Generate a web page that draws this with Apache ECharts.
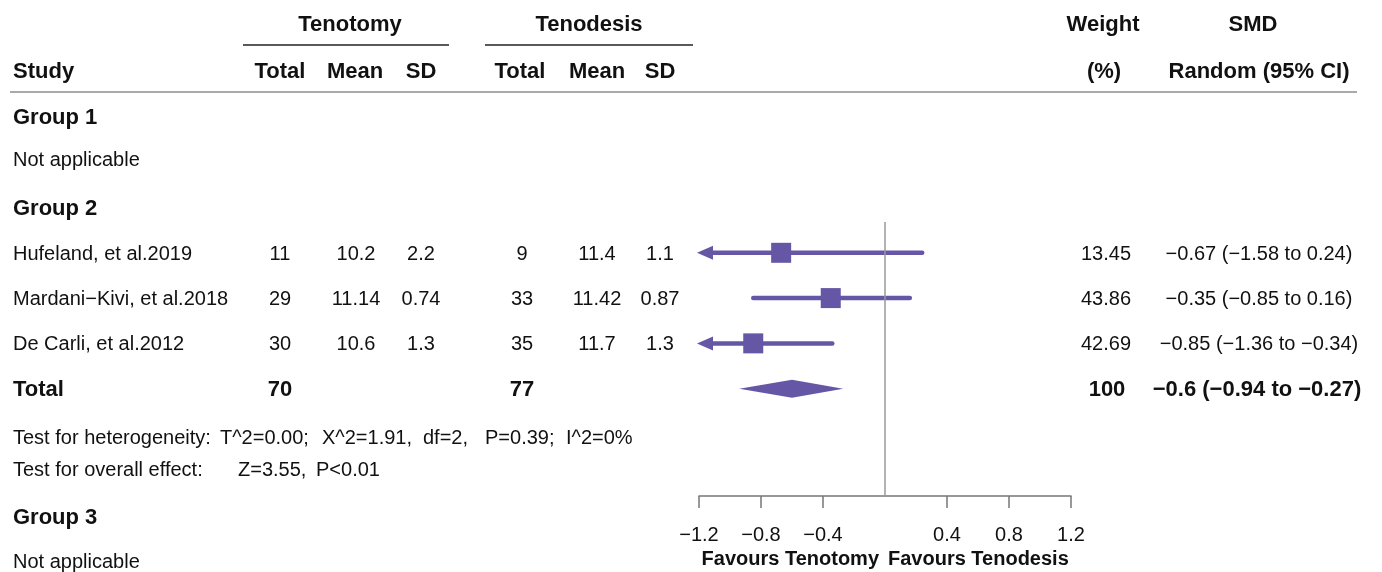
<!DOCTYPE html>
<html><head><meta charset="utf-8">
<script src="https://cdn.jsdelivr.net/npm/echarts@6/dist/echarts.min.js"></script>
<style>html,body{margin:0;padding:0;background:#fff}#c{width:1382px;height:572px}</style>
</head><body><div id="c"></div>
<script>
// ---- data ----
const studies = ['Hufeland, et al.2019', 'Mardani\u2212Kivi, et al.2018', 'De Carli, et al.2012'];
const tenotomyTotal = ['11', '29', '30'];
const tenotomyMean = ['10.2', '11.14', '10.6'];
const tenotomySD = ['2.2', '0.74', '1.3'];
const tenodesisTotal = ['9', '33', '35'];
const tenodesisMean = ['11.4', '11.42', '11.7'];
const tenodesisSD = ['1.1', '0.87', '1.3'];
const weights = ['13.45', '43.86', '42.69'];
const smd = [-0.67, -0.35, -0.85];
const ciLower = [-1.58, -0.85, -1.36];
const ciUpper = [0.24, 0.16, -0.34];
const totalTenotomy = '70';
const totalTenodesis = '77';
const totalWeight = '100';
const totalSMD = -0.6;
const totalLower = -0.94;
const totalUpper = -0.27;
const tickValues = [-1.2, -0.8, -0.4, 0.4, 0.8, 1.2];
const heterogeneity = ['Test for heterogeneity:', 'T^2=0.00;', 'X^2=1.91,', 'df=2,', 'P=0.39;', 'I^2=0%'];
const overallEffect = ['Test for overall effect:', 'Z=3.55,', 'P<0.01'];

// ---- helpers ----
const XMIN = -1.2, XMAX = 1.2;
const PURPLE = '#6656a6';
const FONT = '"Liberation Sans", Arial, Helvetica, sans-serif';
const INK = '#111111';
const DY = 1.5;
const m = v => String(v).replace(/-/g, '\u2212');
const fmt = v => m(v);
const ciText = (e, l, u) => m(e) + ' (' + m(l) + ' to ' + m(u) + ')';

const chart = echarts.init(document.getElementById('c'), null, { renderer: 'canvas' });

function ciRender(params, api) {
  const lo = api.value(1), hi = api.value(2), row = api.value(3);
  const loC = Math.max(lo, XMIN), hiC = Math.min(hi, XMAX);
  const p1 = api.coord([loC, row]), p2 = api.coord([hiC, row]);
  const children = [];
  const startX = lo < XMIN ? p1[0] + 10 : p1[0];
  const endX = hi > XMAX ? p2[0] - 10 : p2[0];
  children.push({
    type: 'line',
    shape: { x1: startX, y1: p1[1], x2: endX, y2: p2[1] },
    style: { stroke: PURPLE, lineWidth: 4.5, lineCap: 'round' }
  });
  if (lo < XMIN) {
    children.push({ type: 'polygon', shape: { points: [[p1[0] - 2, p1[1]], [p1[0] + 14, p1[1] - 7], [p1[0] + 14, p1[1] + 7]] }, style: { fill: PURPLE } });
  }
  if (hi > XMAX) {
    children.push({ type: 'polygon', shape: { points: [[p2[0] + 2, p2[1]], [p2[0] - 14, p2[1] - 7], [p2[0] - 14, p2[1] + 7]] }, style: { fill: PURPLE } });
  }
  return { type: 'group', children };
}

function diamondRender(params, api) {
  const est = api.value(0), lo = api.value(1), hi = api.value(2), row = api.value(3);
  const a = api.coord([lo, row]), c = api.coord([est, row]), b = api.coord([hi, row]);
  const h = 9;
  return {
    type: 'polygon',
    shape: { points: [[a[0], a[1]], [c[0], c[1] - h], [b[0], b[1]], [c[0], c[1] + h]] },
    style: { fill: PURPLE }
  };
}

const ciData = smd.map((v, i) => [v, ciLower[i], ciUpper[i], i]);
const totalRow = studies.length;

chart.setOption({
  animation: false,
  backgroundColor: '#ffffff',
  grid: { left: 699, width: 372, top: 222, height: 274, containLabel: false },
  xAxis: {
    type: 'value', min: XMIN, max: XMAX, interval: 0.4,
    axisLine: { show: true, onZero: false, lineStyle: { color: '#777', width: 1.5 } },
    axisTick: { show: true, inside: false, length: 12, customValues: tickValues, lineStyle: { color: '#777', width: 1.5 } },
    axisLabel: { customValues: tickValues, formatter: v => fmt(Number(v).toFixed(1)), margin: 29, fontSize: 20, color: INK, fontFamily: FONT },
    splitLine: { show: false }
  },
  yAxis: { type: 'value', inverse: true, min: -0.68, max: 5.37, show: false },
  series: [
    {
      type: 'line', data: [], silent: true,
      markLine: { silent: true, symbol: ['none', 'none'], label: { show: false }, lineStyle: { color: '#999', width: 1.5, type: 'solid' }, data: [{ xAxis: 0 }] }
    },
    { type: 'custom', renderItem: ciRender, data: ciData, z: 3, clip: false },
    { type: 'scatter', symbol: 'rect', symbolSize: 20, data: smd.map((v, i) => [v, i]), itemStyle: { color: PURPLE, opacity: 1 }, z: 4 },
    { type: 'custom', renderItem: diamondRender, data: [[totalSMD, totalLower, totalUpper, totalRow]], z: 4 }
  ]
});

// ---- table text ----
const G = [];
function txt(text, x, y, opt) {
  opt = opt || {};
  const size = opt.size || 20;
  const weight = opt.bold ? 'bold' : 'normal';
  const align = opt.align || 'left';
  G.push({
    type: 'text', silent: true, z: 10,
    style: {
      text: text, x: x, y: y + DY, fill: INK,
      font: weight + ' ' + size + 'px ' + FONT,
      textAlign: align, align: align, textVerticalAlign: 'middle', verticalAlign: 'middle'
    }
  });
}
function hline(x1, x2, y, color, w) {
  G.push({ type: 'line', silent: true, z: 10, shape: { x1: x1, y1: y, x2: x2, y2: y }, style: { stroke: color, lineWidth: w } });
}

const COL = { study: 13, tTot: 280, tMean: 356, tSD: 421, dTot: 522, dMean: 597, dSD: 660, wt: 1106, ci: 1259 };

// headers
txt('Tenotomy', 350, 23, { bold: true, size: 22, align: 'center' });
txt('Tenodesis', 589, 23, { bold: true, size: 22, align: 'center' });
txt('Weight', 1103, 23, { bold: true, size: 22, align: 'center' });
txt('SMD', 1253, 23, { bold: true, size: 22, align: 'center' });
hline(243, 449, 45, '#222', 1.5);
hline(485, 693, 45, '#222', 1.5);
txt('Study', COL.study, 70, { bold: true, size: 22 });
txt('Total', COL.tTot, 70, { bold: true, size: 22, align: 'center' });
txt('Mean', 355, 70, { bold: true, size: 22, align: 'center' });
txt('SD', COL.tSD, 70, { bold: true, size: 22, align: 'center' });
txt('Total', 520, 70, { bold: true, size: 22, align: 'center' });
txt('Mean', COL.dMean, 70, { bold: true, size: 22, align: 'center' });
txt('SD', COL.dSD, 70, { bold: true, size: 22, align: 'center' });
txt('(%)', 1104, 70, { bold: true, size: 22, align: 'center' });
txt('Random (95% CI)', COL.ci, 70, { bold: true, size: 22, align: 'center' });
hline(10, 1357, 92, '#aaa', 2);

txt('Group 1', COL.study, 116, { bold: true, size: 22 });
txt('Not applicable', COL.study, 159);
txt('Group 2', COL.study, 207, { bold: true, size: 22 });

studies.forEach((s, i) => {
  const y = chart.convertToPixel({ yAxisIndex: 0 }, i);
  txt(s, COL.study, y);
  txt(tenotomyTotal[i], COL.tTot, y, { align: 'center' });
  txt(tenotomyMean[i], COL.tMean, y, { align: 'center' });
  txt(tenotomySD[i], COL.tSD, y, { align: 'center' });
  txt(tenodesisTotal[i], COL.dTot, y, { align: 'center' });
  txt(tenodesisMean[i], COL.dMean, y, { align: 'center' });
  txt(tenodesisSD[i], COL.dSD, y, { align: 'center' });
  txt(weights[i], COL.wt, y, { align: 'center' });
  txt(ciText(smd[i], ciLower[i], ciUpper[i]), COL.ci, y, { align: 'center' });
});
const yT = chart.convertToPixel({ yAxisIndex: 0 }, totalRow);
txt('Total', COL.study, yT, { bold: true, size: 22 });
txt(totalTenotomy, COL.tTot, yT, { bold: true, size: 22, align: 'center' });
txt(totalTenodesis, COL.dTot, yT, { bold: true, size: 22, align: 'center' });
txt(totalWeight, 1107, yT, { bold: true, size: 22, align: 'center' });
txt(ciText(totalSMD, totalLower, totalUpper), 1257, yT, { bold: true, size: 22, align: 'center' });

const hetX = [13, 220, 322, 423, 485, 566];
heterogeneity.forEach((t, i) => txt(t, hetX[i], 437));
const ovX = [13, 238, 316];
overallEffect.forEach((t, i) => txt(t, ovX[i], 469));
txt('Group 3', COL.study, 516, { bold: true, size: 22 });
txt('Not applicable', COL.study, 561);

const x0 = chart.convertToPixel({ xAxisIndex: 0 }, 0);
txt('Favours Tenotomy', x0 - 6, 558, { bold: true, size: 20, align: 'right' });
txt('Favours Tenodesis', x0 + 3, 558, { bold: true, size: 20, align: 'left' });

chart.setOption({ graphic: { elements: G } });
</script>
</body></html>
